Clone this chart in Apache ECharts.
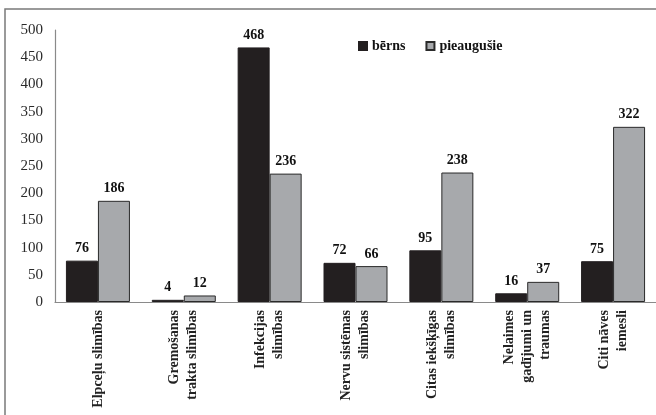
<!DOCTYPE html>
<html>
<head>
<meta charset="utf-8">
<script src="https://cdn.jsdelivr.net/npm/echarts@6/dist/echarts.min.js"></script>
<style>
  html, body { margin: 0; padding: 0; background: #fff; }
  #chart { width: 656px; height: 415px; }
</style>
</head>
<body>
<div id="chart"></div>
<script>
// Causes of death: children vs adults
var categories = [
  'Elpceļu slimības',
  'Gremošanas\ntrakta slimības',
  'Infekcijas\nslimības',
  'Nervu sistēmas\nslimības',
  'Citas iekšķīgas\nslimības',
  'Nelaimes\ngadījumi un\ntraumas',
  'Citi nāves\niemesli'
];
var berns = [76, 4, 468, 72, 95, 16, 75];
var pieaugusie = [186, 12, 236, 66, 238, 37, 322];
var yTicks = [0, 50, 100, 150, 200, 250, 300, 350, 400, 450, 500];

var serif = '"Liberation Serif", "DejaVu Serif", serif';

var chart = echarts.init(document.getElementById('chart'), null, { renderer: 'canvas' });

var labelStyle = {
  show: true,
  position: 'top',
  distance: 5,
  fontFamily: serif,
  fontWeight: 'bold',
  fontSize: 14,
  color: '#111'
};

chart.setOption({
  animation: false,
  backgroundColor: '#fff',
  graphic: [{
    type: 'rect',
    shape: { x: 5, y: 9, width: 700, height: 500 },
    style: { fill: 'none', stroke: '#7a7a7a', lineWidth: 1.5 },
    silent: true,
    z: -1
  }],
  legend: {
    left: 353,
    top: 34,
    itemWidth: 8,
    itemHeight: 8,
    itemGap: 20,
    icon: 'rect',
    textStyle: { fontFamily: serif, fontWeight: 'bold', fontSize: 14, color: '#111' },
    data: ['bērns', 'pieaugušie']
  },
  grid: { left: 55, right: -5, top: 30, bottom: 113, containLabel: false },
  xAxis: {
    type: 'category',
    data: categories,
    boundaryGap: true,
    axisLine: { show: true, lineStyle: { color: '#8a8a8a', width: 1.2 } },
    axisTick: { show: false },
    axisLabel: {
      interval: 0,
      rotate: 90,
      margin: 8,
      fontFamily: serif,
      fontWeight: 'bold',
      fontSize: 14,
      lineHeight: 18,
      color: '#222'
    }
  },
  yAxis: {
    type: 'value',
    min: 0,
    max: 500,
    interval: 50,
    splitLine: { show: false },
    axisLine: { show: true, lineStyle: { color: '#8a8a8a', width: 1.2 } },
    axisTick: { show: false },
    axisLabel: {
      margin: 12,
      fontFamily: serif,
      fontSize: 15,
      color: '#2a2a2a',
      formatter: function (v) { return yTicks.indexOf(v) >= 0 ? String(v) : ''; }
    }
  },
  series: [
    {
      name: 'bērns',
      type: 'bar',
      data: berns,
      barWidth: 32,
      barGap: '0%',
      itemStyle: { color: '#231f20', borderColor: '#231f20', borderWidth: 1 },
      label: labelStyle
    },
    {
      name: 'pieaugušie',
      type: 'bar',
      data: pieaugusie,
      barWidth: 32,
      itemStyle: { color: '#a7a9ac', borderColor: '#2a2a2a', borderWidth: 1 },
      label: labelStyle
    }
  ]
});
</script>
</body>
</html>
